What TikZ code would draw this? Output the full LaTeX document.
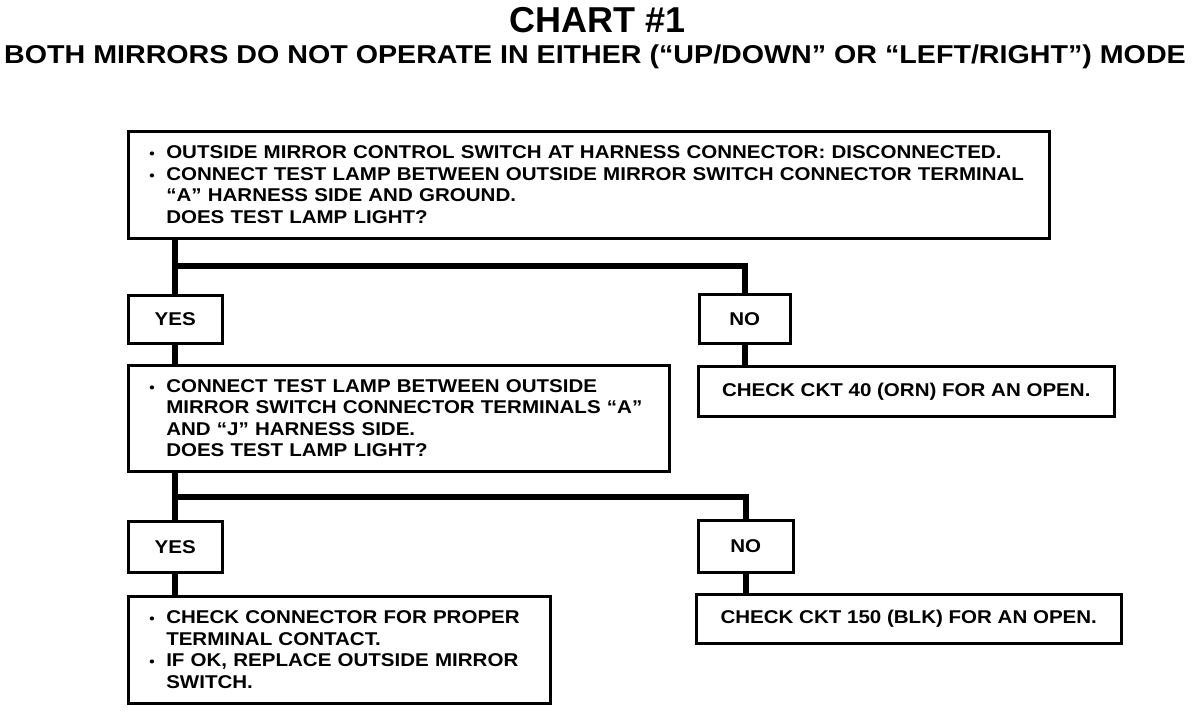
\documentclass[tikz,border=0pt]{standalone}
\usepackage{fontspec}
\setmainfont{Liberation Sans}
\newfontfamily\chartfont[FakeStretch=1.11]{Liberation Sans Bold}
\newfontfamily\titlefont{Liberation Sans Bold}
\usetikzlibrary{positioning}
\newcommand{\bul}{\makebox[17pt][l]{\scalebox{0.75}{•}}}
\newcommand{\ind}{\hspace*{17pt}}

\begin{document}
\begin{tikzpicture}[x=1pt, y=-1pt,
    box/.style={draw, line width=2.5pt, anchor=north west, inner xsep=21pt, inner ysep=0pt,
        align=left, font=\chartfont\fontsize{18.5}{21.5}\selectfont},
    tag/.style={draw, line width=2.5pt, anchor=north west, inner sep=0pt, align=center,
        font=\chartfont\fontsize{18.5}{21.5}\selectfont},
    trunk/.style={line width=6pt}]
    \useasboundingbox (0,0) rectangle (1200,710);

    % Titolo
    \node[anchor=base, font=\titlefont\fontsize{36}{40}\selectfont] (title) at (598,32) {CHART \#1};
    \node[anchor=base, font=\chartfont\fontsize{25.8}{30}\selectfont] (sub) at (595,63)
        {BOTH MIRRORS DO NOT OPERATE IN EITHER (“UP/DOWN” OR “LEFT/RIGHT”) MODE};

    % Prima domanda
    \node[box, text width=879pt, minimum height=107pt] (q1) at (127,130)
        {\bul OUTSIDE MIRROR CONTROL SWITCH AT HARNESS CONNECTOR: DISCONNECTED.\\
         \bul CONNECT TEST LAMP BETWEEN OUTSIDE MIRROR SWITCH CONNECTOR TERMINAL\\
         \ind “A” HARNESS SIDE AND GROUND.\\
         \ind DOES TEST LAMP LIGHT?};
    \node[tag, minimum width=94pt, minimum height=48pt] (yes1) at (127,294) {YES};
    \node[tag, minimum width=91pt, minimum height=49pt] (no1) at (698,293) {NO};

    % Seconda domanda
    \node[box, text width=499pt, minimum height=106pt] (q2) at (127,364)
        {\bul CONNECT TEST LAMP BETWEEN OUTSIDE\\
         \ind MIRROR SWITCH CONNECTOR TERMINALS “A”\\
         \ind AND “J” HARNESS SIDE.\\
         \ind DOES TEST LAMP LIGHT?};
    \node[tag, minimum width=416pt, minimum height=50pt] (open40) at (697,365)
        {CHECK CKT 40 (ORN) FOR AN OPEN.};
    \node[tag, minimum width=94pt, minimum height=51pt] (yes2) at (127,520) {YES};
    \node[tag, minimum width=95pt, minimum height=52pt] (no2) at (697,519) {NO};

    % Esiti finali
    \node[box, text width=380pt, minimum height=107pt] (fix) at (127,595)
        {\bul CHECK CONNECTOR FOR PROPER\\
         \ind TERMINAL CONTACT.\\
         \bul IF OK, REPLACE OUTSIDE MIRROR\\
         \ind SWITCH.};
    \node[tag, minimum width=425pt, minimum height=49pt] (open150) at (695,593)
        {CHECK CKT 150 (BLK) FOR AN OPEN.};

    % Diramazioni
    \coordinate (br1) at (0,266);
    \coordinate (br2) at (0,497);
    \draw[trunk] (q1.south -| yes1.north) -- (yes1.north);
    \draw[trunk] (yes1.north |- br1) -| (no1.north);
    \draw[trunk] (yes1.south) -- (yes1.south |- q2.north);
    \draw[trunk] (no1.south) -- (no1.south |- open40.north);
    \draw[trunk] (q2.south -| yes2.north) -- (yes2.north);
    \draw[trunk] (yes2.north |- br2) -| (no2.north);
    \draw[trunk] (yes2.south) -- (yes2.south |- fix.north);
    \draw[trunk] (no2.south) -- (no2.south |- open150.north);
\end{tikzpicture}
\end{document}
